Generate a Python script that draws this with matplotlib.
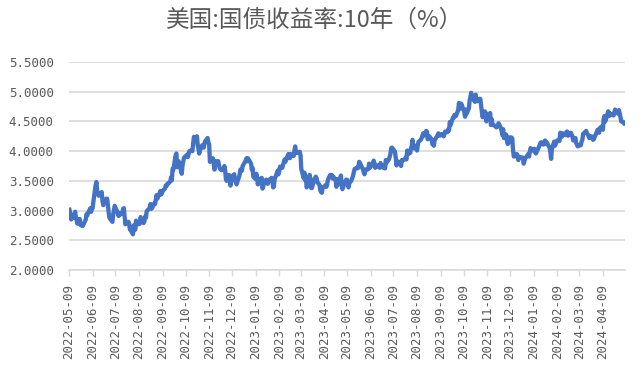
import matplotlib
matplotlib.use("Agg")
import matplotlib.pyplot as plt
import matplotlib.dates as mdates
import pandas as pd
import numpy as np

title = "美国:国债收益率:10年（%）"
start_date = "2022-05-09"
end_date = "2024-05-08"
# US bond market holidays within the range (no observation)
holidays = ["2022-05-30", "2022-06-20", "2022-07-04", "2022-09-05", "2022-10-10",
            "2022-11-11", "2022-11-24", "2022-12-26", "2023-01-02", "2023-01-16",
            "2023-02-20", "2023-05-29", "2023-06-19", "2023-07-04", "2023-09-04",
            "2023-10-09", "2023-11-23", "2023-12-25", "2024-01-01", "2024-01-15",
            "2024-02-19", "2024-03-29"]

yields = [
    # 2022-05
    3.05, 2.99, 2.91, 2.85, 2.93, 2.88, 2.98, 2.89, 2.84, 2.78, 2.86, 2.76, 2.75, 2.75, 2.74, 2.85,
    # 2022-06
    2.94, 2.92, 2.96, 3.04, 2.98, 3.03, 3.04, 3.15, 3.43, 3.48, 3.33, 3.28, 3.25, 3.31, 3.16, 3.09,
    3.13, 3.20, 3.20, 3.10, 2.98,
    # 2022-07
    2.88, 2.81, 2.93, 3.00, 3.08, 2.99, 2.96, 2.91, 2.96, 2.93, 2.96, 3.03, 3.04, 2.91, 2.77, 2.81,
    2.81, 2.78, 2.68, 2.67,
    # 2022-08
    2.60, 2.75, 2.73, 2.68, 2.83, 2.77, 2.79, 2.78, 2.89, 2.85, 2.79, 2.82, 2.90, 2.88, 2.99, 3.03,
    3.05, 3.11, 3.03, 3.04, 3.12, 3.11, 3.19,
    # 2022-09
    3.26, 3.20, 3.33, 3.27, 3.29, 3.33, 3.37, 3.42, 3.41, 3.45, 3.45, 3.49, 3.56, 3.51, 3.70, 3.69,
    3.93, 3.96, 3.73, 3.78, 3.83,
    # 2022-10
    3.67, 3.62, 3.76, 3.83, 3.89, 3.94, 3.90, 3.95, 4.00, 4.01, 4.00, 4.13, 4.24, 4.21, 4.25, 4.10,
    4.04, 3.96, 4.02, 4.10,
    # 2022-11
    4.07, 4.06, 4.14, 4.17, 4.22, 4.14, 4.12, 3.82, 3.88, 3.80, 3.69, 3.77, 3.83, 3.83, 3.76, 3.71,
    3.68, 3.69, 3.75, 3.68,
    # 2022-12
    3.53, 3.50, 3.60, 3.53, 3.42, 3.49, 3.58, 3.61, 3.51, 3.48, 3.44, 3.48, 3.60, 3.69, 3.68, 3.67,
    3.75, 3.84, 3.88, 3.83, 3.88,
    # 2023-01
    3.79, 3.69, 3.72, 3.57, 3.53, 3.62, 3.55, 3.44, 3.51, 3.55, 3.37, 3.40, 3.48, 3.52, 3.46, 3.45,
    3.49, 3.52, 3.55, 3.52,
    # 2023-02
    3.39, 3.40, 3.53, 3.63, 3.67, 3.61, 3.66, 3.74, 3.72, 3.77, 3.81, 3.86, 3.82, 3.95, 3.92, 3.88,
    3.95, 3.92, 3.92,
    # 2023-03
    4.01, 4.08, 3.97, 3.98, 3.97, 3.99, 3.93, 3.70, 3.55, 3.64, 3.51, 3.57, 3.39, 3.48, 3.60, 3.48,
    3.38, 3.38, 3.53, 3.55, 3.57, 3.55, 3.48,
    # 2023-04
    3.43, 3.34, 3.31, 3.30, 3.39, 3.41, 3.43, 3.40, 3.45, 3.52, 3.60, 3.59, 3.60, 3.54, 3.57, 3.52,
    3.40, 3.45, 3.53, 3.44,
    # 2023-05
    3.59, 3.44, 3.36, 3.39, 3.44, 3.52, 3.52, 3.44, 3.39, 3.46, 3.51, 3.55, 3.59, 3.65, 3.70, 3.72,
    3.71, 3.74, 3.82, 3.80, 3.69, 3.64,
    # 2023-06
    3.61, 3.69, 3.69, 3.70, 3.79, 3.72, 3.75, 3.77, 3.84, 3.79, 3.72, 3.77, 3.73, 3.72, 3.80, 3.74,
    3.72, 3.77, 3.71, 3.85, 3.81,
    # 2023-07
    3.86, 3.95, 4.05, 4.06, 4.01, 3.99, 3.89, 3.76, 3.83, 3.81, 3.80, 3.75, 3.85, 3.84, 3.87, 3.89,
    3.86, 4.01, 3.95, 3.97,
    # 2023-08
    4.05, 4.08, 4.19, 4.05, 4.09, 4.03, 4.01, 4.11, 4.16, 4.19, 4.22, 4.26, 4.30, 4.26, 4.34, 4.33,
    4.20, 4.24, 4.25, 4.20, 4.12, 4.12, 4.09,
    # 2023-09
    4.18, 4.27, 4.30, 4.27, 4.26, 4.29, 4.28, 4.25, 4.29, 4.33, 4.32, 4.37, 4.35, 4.49, 4.44, 4.56,
    4.56, 4.61, 4.59, 4.59,
    # 2023-10
    4.69, 4.81, 4.73, 4.72, 4.80, 4.66, 4.58, 4.70, 4.63, 4.72, 4.85, 4.91, 4.98, 4.93, 4.85, 4.83,
    4.95, 4.86, 4.84, 4.88, 4.88,
    # 2023-11
    4.77, 4.67, 4.57, 4.67, 4.58, 4.50, 4.63, 4.61, 4.64, 4.44, 4.54, 4.45, 4.44, 4.42, 4.40, 4.41,
    4.47, 4.39, 4.34, 4.27, 4.37,
    # 2023-12
    4.22, 4.28, 4.17, 4.12, 4.14, 4.23, 4.23, 4.21, 4.02, 3.91, 3.91, 3.95, 3.93, 3.85, 3.89, 3.90,
    3.89, 3.79, 3.84, 3.88,
    # 2024-01
    3.95, 3.91, 3.99, 4.05, 4.01, 4.02, 4.04, 3.98, 3.96, 4.07, 4.10, 4.14, 4.15, 4.11, 4.13, 4.18,
    4.12, 4.15, 4.08, 4.06, 3.99,
    # 2024-02
    3.87, 4.03, 4.16, 4.09, 4.12, 4.15, 4.18, 4.17, 4.31, 4.27, 4.24, 4.30, 4.27, 4.32, 4.33, 4.26,
    4.28, 4.31, 4.27, 4.25,
    # 2024-03
    4.18, 4.22, 4.13, 4.11, 4.08, 4.09, 4.10, 4.16, 4.19, 4.29, 4.30, 4.34, 4.30, 4.28, 4.27, 4.22,
    4.25, 4.24, 4.19, 4.20,
    # 2024-04
    4.33, 4.36, 4.36, 4.31, 4.39, 4.42, 4.36, 4.55, 4.59, 4.50, 4.63, 4.67, 4.59, 4.64, 4.62, 4.62,
    4.60, 4.65, 4.70, 4.67, 4.63, 4.69,
    # 2024-05
    4.63, 4.58, 4.50, 4.49, 4.46, 4.49,
]

tick_dates = ["2022-05-09", "2022-06-09", "2022-07-09", "2022-08-09", "2022-09-09",
              "2022-10-09", "2022-11-09", "2022-12-09", "2023-01-09", "2023-02-09",
              "2023-03-09", "2023-04-09", "2023-05-09", "2023-06-09", "2023-07-09",
              "2023-08-09", "2023-09-09", "2023-10-09", "2023-11-09", "2023-12-09",
              "2024-01-09", "2024-02-09", "2024-03-09", "2024-04-09"]
y_ticks = [2.0, 2.5, 3.0, 3.5, 4.0, 4.5, 5.0, 5.5]

dates = pd.bdate_range(start_date, end_date, freq="C", holidays=holidays)
n = min(len(dates), len(yields))
dates = dates[:n]
vals = np.array(yields[:n])

fig = plt.figure(figsize=(6.42, 3.82), dpi=100)
ax = fig.add_axes([69 / 642, 1 - 270 / 382, (625 - 69) / 642, (270 - 62) / 382])

grid_c = "#D9D9D9"
text_c = "#595959"

ax.plot(dates, vals, color="#4472C4", linewidth=3.1, solid_joinstyle="round",
        solid_capstyle="butt", zorder=3)

ax.set_xlim(pd.Timestamp(start_date), pd.Timestamp(end_date))
ax.set_ylim(2.0, 5.5)
ax.set_yticks(y_ticks)
ax.set_yticklabels([f"{v:.4f}" for v in y_ticks], family="DejaVu Sans Mono",
                   fontsize=9, color=text_c)
ax.yaxis.grid(True, color=grid_c, linewidth=1.2, zorder=0)
ax.tick_params(axis="y", length=0, pad=11)

tk = [pd.Timestamp(d) for d in tick_dates]
ax.set_xticks(tk)
ax.set_xticklabels(tick_dates, rotation=90, family="DejaVu Sans Mono",
                   fontsize=9, color=text_c)
ax.tick_params(axis="x", length=4, width=1, color=grid_c, pad=6)

for s in ["left", "right", "top"]:
    ax.spines[s].set_visible(False)
ax.spines["bottom"].set_color(grid_c)
ax.spines["bottom"].set_linewidth(1.2)

fig.text(315 / 642, 1 - 20 / 382, title, ha="center", va="center",
         family=["Noto Sans CJK SC", "DejaVu Sans"], fontsize=17, color=text_c)

fig.savefig("out.png", dpi=100)
